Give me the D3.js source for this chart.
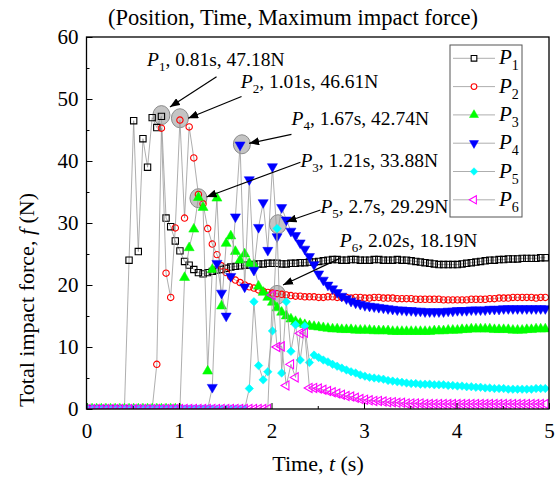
<!DOCTYPE html>
<html>
<head>
<meta charset="utf-8">
<script src="https://cdn.jsdelivr.net/npm/d3@7"></script>
<style>
  body { margin: 0; background: #fff; }
  svg { display: block; font-family: "Liberation Serif", "Times New Roman", serif; }
</style>
</head>
<body>
<svg id="chart" width="556" height="477"></svg>
<script>
// sample times, s
const times = [
  0.01,0.06,0.11,0.16,0.21,0.26,0.31,0.36,0.41,0.46,
  0.51,0.56,0.61,0.66,0.71,0.76,0.81,0.86,0.91,0.96,
  1.01,1.06,1.11,1.16,1.21,1.26,1.31,1.36,1.41,1.46,
  1.51,1.56,1.61,1.66,1.71,1.76,1.81,1.86,1.91,1.96,
  2.01,2.06,2.11,2.16,2.21,2.26,2.31,2.36,2.41,2.46,
  2.51,2.56,2.61,2.66,2.71,2.76,2.81,2.86,2.91,2.96,
  3.01,3.06,3.11,3.16,3.21,3.26,3.31,3.36,3.41,3.46,
  3.51,3.56,3.61,3.66,3.71,3.76,3.81,3.86,3.91,3.96,
  4.01,4.06,4.11,4.16,4.21,4.26,4.31,4.36,4.41,4.46,
  4.51,4.56,4.61,4.66,4.71,4.76,4.81,4.86,4.91,4.96
];

const p1 = [
  0,0,0,0,0,0,0,0,0,24.0,
  46.5,25.4,43.6,39.0,47.0,45.4,47.2,30.8,29.4,27.1,
  25.5,23.8,23.2,22.5,22.0,21.8,22.0,22.2,22.4,22.5,
  22.7,22.9,23.0,23.1,23.2,23.2,23.3,23.4,23.4,23.5,
  23.5,23.5,23.4,23.4,23.5,23.5,23.6,23.6,23.7,23.7,
  23.8,23.9,24.0,24.1,24.1,24.0,24.0,24.1,24.1,24.0,
  24.0,24.0,24.1,24.1,24.0,24.0,24.0,24.1,24.0,24.0,
  23.9,23.8,23.7,23.6,23.5,23.4,23.3,23.3,23.3,23.3,
  23.3,23.4,23.5,23.6,23.7,23.8,23.9,24.0,24.0,24.1,
  24.1,24.2,24.2,24.2,24.3,24.3,24.3,24.3,24.4,24.4
];
const p2 = [
  0,0,0,0,0,0,0,0,0,0,
  0,0,0,0,0,7.2,45.3,21.9,18.0,29.2,
  46.6,30.8,45.5,40.5,34.6,33.1,29.1,26.6,24.9,23.1,
  22.0,21.3,20.8,20.4,20.0,19.7,19.5,19.2,19.0,18.8,
  18.7,18.6,18.5,18.4,18.3,18.2,18.2,18.1,18.1,18.1,
  18.0,18.0,18.1,18.1,18.0,18.0,18.0,17.9,18.0,18.0,
  17.9,17.9,18.0,18.0,17.9,17.9,17.9,17.8,17.8,17.8,
  17.8,17.7,17.7,17.7,17.7,17.7,17.7,17.6,17.6,17.6,
  17.6,17.6,17.6,17.7,17.7,17.7,17.7,17.8,17.8,17.9,
  17.9,17.9,18.0,18.0,18.0,18.0,18.0,17.9,18.0,18.0
];
const p3 = [
  0,0,0,0,0,0,0,0,0,0,
  0,0,0,0,0,0,0,0,0,0,
  0,21.2,26.0,29.0,34.1,32.5,6.1,22.5,34.0,16.6,
  26.7,27.9,25.4,24.0,25.0,23.5,23.2,19.8,18.8,18.0,
  17.2,16.3,15.6,15.0,14.5,14.1,13.8,13.6,13.4,13.3,
  13.2,13.1,13.0,12.9,12.9,12.8,12.8,12.8,12.7,12.7,
  12.7,12.7,12.6,12.6,12.6,12.6,12.5,12.5,12.5,12.5,
  12.5,12.5,12.5,12.5,12.5,12.6,12.6,12.6,12.7,12.7,
  12.7,12.8,12.8,12.9,12.9,12.9,12.9,12.9,12.8,12.8,
  12.8,12.8,12.7,12.7,12.7,12.8,12.8,12.9,12.9,12.9
];
const p4 = [
  0,0,0,0,0,0,0,0,0,0,
  0,0,0,0,0,0,0,0,0,0,
  0,0,0,0,0,0,0,3.5,23.5,18.7,
  15.0,21.4,31.0,42.6,19.7,37.0,22.4,29.3,33.3,25.6,
  39.1,27.8,32.5,30.5,28.7,28.0,26.8,25.8,24.6,23.3,
  21.8,20.8,20.0,19.4,18.8,18.2,17.8,17.4,17.1,16.9,
  16.7,16.6,16.5,16.4,16.3,16.2,16.1,16.0,16.0,15.9,
  15.9,15.8,15.8,15.7,15.7,15.7,15.7,15.7,15.8,15.8,
  15.9,15.9,15.9,16.0,16.0,16.0,16.0,16.1,16.1,16.1,
  16.2,16.2,16.2,16.2,16.2,16.2,16.2,16.2,16.2,16.2
];
const p5 = [
  0,0,0,0,0,0,0,0,0,0,
  0,0,0,0,0,0,0,0,0,0,
  0,0,0,0,0,0,0,0,0,0,
  0,0,0,0,0,3.3,17.3,7.0,4.7,6.0,
  12.6,29.1,5.8,17.3,9.3,13.6,7.9,13.4,7.5,8.7,
  8.3,7.9,7.6,7.2,6.9,6.6,6.3,6.0,5.8,5.5,
  5.3,5.1,5.0,4.9,4.8,4.6,4.5,4.4,4.3,4.2,
  4.1,4.1,4.0,4.0,4.0,3.9,3.9,3.9,3.8,3.8,
  3.7,3.7,3.6,3.6,3.5,3.5,3.4,3.4,3.3,3.3,
  3.3,3.2,3.2,3.2,3.2,3.2,3.2,3.3,3.3,3.3
];
const p6 = [
  0,0,0,0,0,0,0,0,0,0,
  0,0,0,0,0,0,0,0,0,0,
  0,0,0,0,0,0,0,0,0,0,
  0,0,0,0,0,0,0,0,0,0,
  18.4,10.0,10.1,3.8,7.2,5.1,12.2,12.3,3.4,3.4,
  3.3,3.1,2.9,2.7,2.5,2.3,2.1,2.0,1.8,1.6,
  1.5,1.4,1.3,1.3,1.2,1.1,1.1,1.0,1.0,0.9,
  0.9,0.9,0.9,0.8,0.8,0.8,0.8,0.8,0.8,0.8,
  0.8,0.8,0.8,0.8,0.8,0.8,0.8,0.8,0.8,0.8,
  0.8,0.8,0.8,0.8,0.8,0.8,0.8,0.8,0.8,0.8
];

const seriesIdx = ["1", "2", "3", "4", "5", "6"];
const seriesValues = [p1, p2, p3, p4, p5, p6];

// highlighted maxima (grey discs) and their notes
const peakIdx = ["1", "2", "4", "3", "5", "6"];
const peakT = [0.81, 1.01, 1.68, 1.21, 2.07, 2.06];
const peakF = [47.4, 46.9, 42.7, 34.0, 29.8, 18.4];
const peakTimeText = ["0.81s", "1.01s", "1.67s", "1.21s", "2.7s", "2.02s"];
const peakForceText = ["47.18N", "46.61N", "42.74N", "33.88N", "29.29N", "18.19N"];

const xTicks = [0, 1, 2, 3, 4, 5];
const xMinor = [0.5, 1.5, 2.5, 3.5, 4.5];
const yTicks = [0, 10, 20, 30, 40, 50, 60];
const yMinor = [5, 15, 25, 35, 45, 55];

// ---- layout ----
const svg = d3.select("#chart");
const plotL = 86.5, plotR = 549, plotT = 37, plotB = 409;
const x = d3.scaleLinear().domain([0, 5]).range([plotL, plotR]);
const y = d3.scaleLinear().domain([0, 60]).range([plotB, plotT]);

const styles = [
  { color: "#000000", type: d3.symbolSquare, size: 40, rot: 0, filled: false },
  { color: "#ff0000", type: d3.symbolCircle, size: 32, rot: 0, filled: false },
  { color: "#00ff00", type: d3.symbolTriangle, size: 44, rot: 0, filled: true },
  { color: "#0000ff", type: d3.symbolTriangle, size: 44, rot: 180, filled: true },
  { color: "#00ffff", type: d3.symbolSquare, size: 36, rot: 45, filled: true },
  { color: "#ff00ff", type: d3.symbolTriangle, size: 36, rot: -90, filled: false }
];

svg.append("rect").attr("width", 556).attr("height", 477).attr("fill", "#fff");

const defs = svg.append("defs");
defs.append("clipPath").attr("id", "plotClip")
  .append("rect").attr("x", plotL).attr("y", plotT)
  .attr("width", plotR - plotL).attr("height", plotB - plotT);
defs.append("marker").attr("id", "arrowHead")
  .attr("markerUnits", "userSpaceOnUse")
  .attr("markerWidth", 11).attr("markerHeight", 8)
  .attr("refX", 10).attr("refY", 4).attr("orient", "auto")
  .append("path").attr("d", "M0,0 L10,4 L0,8 Z").attr("fill", "#000");

// grey discs behind the data
const plot = svg.append("g").attr("clip-path", "url(#plotClip)");
plot.append("g").selectAll("ellipse").data(peakT).join("ellipse")
  .attr("cx", (d) => x(d))
  .attr("cy", (d, i) => y(peakF[i]))
  .attr("rx", 8.5).attr("ry", 9.5)
  .attr("fill", "#c4c4c4").attr("stroke", "#8a8a8a").attr("stroke-width", 1);

const line = d3.line().x((d, i) => x(times[i])).y((d) => y(d));

seriesValues.forEach((vals, s) => {
  const st = styles[s];
  const g = plot.append("g");
  g.append("path").datum(vals)
    .attr("d", line)
    .attr("fill", "none")
    .attr("stroke", "#999")
    .attr("stroke-width", 0.8);
  g.selectAll("path.mk").data(vals).join("path")
    .attr("class", "mk")
    .attr("d", d3.symbol().type(st.type).size(st.size))
    .attr("transform", (d, i) => "translate(" + x(times[i]) + "," + y(d) + ") rotate(" + st.rot + ")")
    .attr("fill", st.filled ? st.color : "none")
    .attr("stroke", st.color)
    .attr("stroke-width", st.filled ? 0.5 : 1.1);
});

// axes
const fontSize = 21;
svg.append("g").attr("transform", "translate(0," + plotB + ")")
  .call(d3.axisBottom(x).tickValues(xTicks).tickSize(-6).tickPadding(14).tickFormat(d3.format("d")));
svg.append("g").attr("transform", "translate(0," + plotB + ")")
  .call(d3.axisBottom(x).tickValues(xMinor).tickSize(-3).tickFormat(""));
svg.append("g").attr("transform", "translate(" + plotL + ",0)")
  .call(d3.axisLeft(y).tickValues(yTicks).tickSize(-6).tickPadding(8).tickFormat(d3.format("d")));
svg.append("g").attr("transform", "translate(" + plotL + ",0)")
  .call(d3.axisLeft(y).tickValues(yMinor).tickSize(-3).tickFormat(""));
svg.selectAll(".domain").remove();
svg.selectAll(".tick line").attr("stroke", "#000").attr("stroke-width", 1);
svg.selectAll(".tick text")
  .attr("font-family", "Liberation Serif, Times New Roman, serif")
  .attr("font-size", fontSize).attr("fill", "#000");

svg.append("rect")
  .attr("x", plotL).attr("y", plotT)
  .attr("width", plotR - plotL).attr("height", plotB - plotT)
  .attr("fill", "none").attr("stroke", "#000").attr("stroke-width", 1.3);

// titles
svg.append("text").attr("x", 293).attr("y", 25)
  .attr("text-anchor", "middle").attr("font-size", 22.5)
  .text("(Position, Time, Maximum impact force)");

const xt = svg.append("text").attr("x", 318).attr("y", 471)
  .attr("text-anchor", "middle").attr("font-size", 22);
xt.append("tspan").text("Time, ");
xt.append("tspan").attr("font-style", "italic").text("t");
xt.append("tspan").text(" (s)");

const yt = svg.append("text")
  .attr("transform", "translate(34,300) rotate(-90)")
  .attr("text-anchor", "middle").attr("font-size", 22);
yt.append("tspan").text("Total impact force, ");
yt.append("tspan").attr("font-style", "italic").text("f");
yt.append("tspan").text(" (N)");

// annotations: text anchor, arrow tail and arrow tip in data units
const noteAt = [[0.654, 55.4], [1.668, 51.7], [2.216, 45.8], [2.313, 39.1], [2.529, 31.6], [2.738, 26.2]];
const tailAt = [[1.406, 53.6], [1.676, 50.4], [2.216, 44.3], [2.313, 39.8], [2.529, 32.1], [2.738, 24.3]];
const tipAt = [[0.902, 48.7], [1.099, 46.9], [1.758, 42.85], [1.298, 34.2], [2.162, 30.2], [2.125, 20.0]];

peakIdx.forEach((p, i) => {
  svg.append("line")
    .attr("x1", x(tailAt[i][0])).attr("y1", y(tailAt[i][1]))
    .attr("x2", x(tipAt[i][0])).attr("y2", y(tipAt[i][1]))
    .attr("stroke", "#000").attr("stroke-width", 1.2)
    .attr("marker-end", "url(#arrowHead)");
  const t = svg.append("text")
    .attr("x", x(noteAt[i][0])).attr("y", y(noteAt[i][1]))
    .attr("font-size", 19.5);
  t.append("tspan").attr("font-style", "italic").text("P");
  t.append("tspan").attr("font-size", 13).attr("dy", 5).text(p);
  t.append("tspan").attr("dy", -5).text(", " + peakTimeText[i] + ", " + peakForceText[i]);
});

// legend
const lg = svg.append("g");
lg.append("rect").attr("x", 450).attr("y", 45).attr("width", 72).attr("height", 172)
  .attr("fill", "#fff").attr("stroke", "#555").attr("stroke-width", 1);
seriesIdx.forEach((p, i) => {
  const st = styles[i];
  const ly = 58.3 + i * 28.3;
  lg.append("line").attr("x1", 453).attr("x2", 495).attr("y1", ly).attr("y2", ly)
    .attr("stroke", "#999").attr("stroke-width", 0.8);
  lg.append("path")
    .attr("d", d3.symbol().type(st.type).size(st.size * 0.8)())
    .attr("transform", "translate(474," + ly + ") rotate(" + st.rot + ")")
    .attr("fill", st.filled ? st.color : "#fff")
    .attr("stroke", st.color)
    .attr("stroke-width", st.filled ? 0.5 : 1.1);
  const t = lg.append("text").attr("x", 499).attr("y", ly + 6).attr("font-size", 21);
  t.append("tspan").attr("font-style", "italic").text("P");
  t.append("tspan").attr("font-size", 14).attr("dy", 6).text(p);
});
</script>
</body>
</html>
